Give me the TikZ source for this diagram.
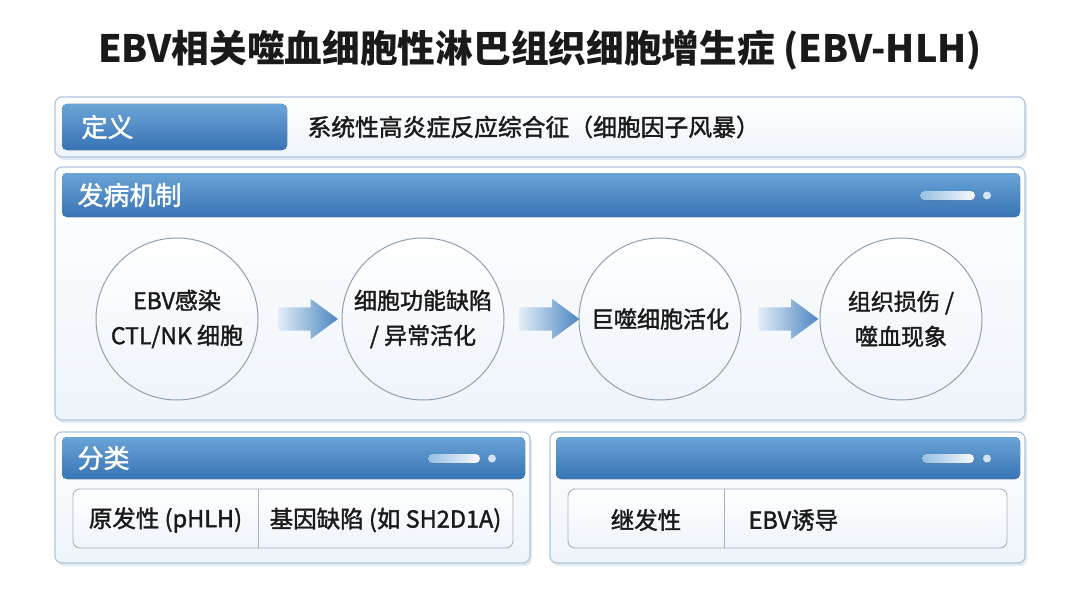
\documentclass[tikz,border=0pt]{standalone}
\usepackage{fontspec}
\setmainfont{Noto Sans CJK SC}
\newfontfamily\medfont{Noto Sans CJK SC}[FakeBold=1.6]
\usetikzlibrary{shapes.arrows,calc}
\definecolor{hdrtop}{HTML}{6AA3D6}
\definecolor{hdrbot}{HTML}{3874B5}
\definecolor{panelbd}{HTML}{AFC6DE}
\definecolor{panelbg}{HTML}{EEF4FA}
\definecolor{circbd}{HTML}{8E9FB2}
\definecolor{txt}{HTML}{1A1A1A}
\definecolor{shadowc}{HTML}{C9D6E4}
\definecolor{arrowc}{HTML}{4A86C2}
\tikzset{
  panel/.style={draw=panelbd, line width=1.2pt, rounded corners=7pt, top color=white, bottom color=panelbg},
  panelshadow/.style={fill=shadowc, rounded corners=7pt, opacity=0.5},
  header/.style={rounded corners=5pt, top color=hdrtop, bottom color=hdrbot, draw=none},
  hdrtext/.style={text=white, anchor=west, font=\medfont\fontsize{26}{30}\selectfont},
  circ/.style={circle, draw=circbd, line width=1pt, minimum size=162pt, inner sep=0pt,
    top color=white, bottom color=panelbg, text=txt, align=center, font=\medfont\fontsize{23}{35}\selectfont},
  flowarrow/.style={single arrow, draw=none, minimum height=60pt, minimum width=40pt,
    inner xsep=0pt, inner ysep=11.5pt, single arrow tip angle=73,
    single arrow head extend=8.5pt, single arrow head indent=0pt,
    left color=arrowc!15!white, right color=arrowc},
  tbl/.style={draw=circbd!80, line width=0.9pt, rounded corners=7pt, top color=white, bottom color=panelbg},
  celltext/.style={text=txt, font=\medfont\fontsize{23.5}{26}\selectfont},
  pill/.style={rounded corners=4pt, left color=hdrtop!70!white, right color=white!95!hdrtop, draw=none},
  hdot/.style={circle, fill=white!70!hdrtop, inner sep=0pt, minimum size=8pt},
}
\begin{document}
\begin{tikzpicture}[x=1pt,y=-1pt]
\useasboundingbox (0,0) rectangle (1080,602);
\fill[white] (0,0) rectangle (1080,602);

% title
\node[font=\bfseries\fontsize{37.7}{40}\selectfont, text=txt] (title) at (540,50) {EBV相关噬血细胞性淋巴组织细胞增生症 (EBV-HLH)};

% definition panel
\fill[panelshadow] (57,100) rectangle (1027,160);
\draw[panel] (55,97) rectangle (1025,157);
\fill[header] (62,104) rectangle (287,150);
\node[hdrtext] (defh) at (78,127) {定义};
\node[anchor=west, text=txt, font=\medfont\fontsize{23.8}{28}\selectfont] (deft) at (304,127) {系统性高炎症反应综合征（细胞因子风暴）};

% mechanism panel
\fill[panelshadow] (57,170) rectangle (1027,423);
\draw[panel] (55,167) rectangle (1025,420);
\fill[header] (62,173) rectangle (1020,217);
\node[hdrtext] (mechh) at (74,195) {发病机制};
\fill[pill] (920,191) rectangle (975,200);
\node[hdot] at (987,195.5) {};

\node[circ] (c1) at (177,319) {EBV感染\\CTL/NK 细胞};
\node[circ] (c2) at (423,319) {细胞功能缺陷\\/ 异常活化};
\node[circ] (c3) at (660,319) {巨噬细胞活化};
\node[circ] (c4) at (901,319) {组织损伤 /\\噬血现象};
\node[flowarrow] (a1) at ($(c1.east)!0.5!(c2.west)$) {};
\node[flowarrow] (a2) at ($(c2.east)!0.5!(c3.west)$) {};
\node[flowarrow] (a3) at ($(c3.east)!0.5!(c4.west)$) {};

% classification panel left
\fill[panelshadow] (57,435) rectangle (532,566);
\draw[panel] (55,432) rectangle (530,563);
\fill[header] (62,437) rectangle (525,479);
\node[hdrtext] (clsh) at (74,458) {分类};
\fill[pill] (428,454) rectangle (480,463);
\node[hdot] at (492,458.5) {};
\draw[tbl] (73,489) rectangle (513,548);
\draw[circbd!80, line width=0.9pt] (258,489) -- (258,548);
\node[celltext] (p1) at (165.5,520) {原发性 (pHLH)};
\node[celltext] (p2) at (385.5,520) {基因缺陷 (如 SH2D1A)};

% classification panel right
\fill[panelshadow] (552,435) rectangle (1027,566);
\draw[panel] (550,432) rectangle (1025,563);
\fill[header] (556,437) rectangle (1020,479);
\fill[pill] (922,454) rectangle (974,463);
\node[hdot] at (987,458.5) {};
\draw[tbl] (568,489) rectangle (1007,548);
\draw[circbd!80, line width=0.9pt] (724,489) -- (724,548);
\node[celltext] (s1) at (646,520) {继发性};
\node[celltext, anchor=west] (s2) at (745,520) {EBV诱导};
\end{tikzpicture}
\end{document}
